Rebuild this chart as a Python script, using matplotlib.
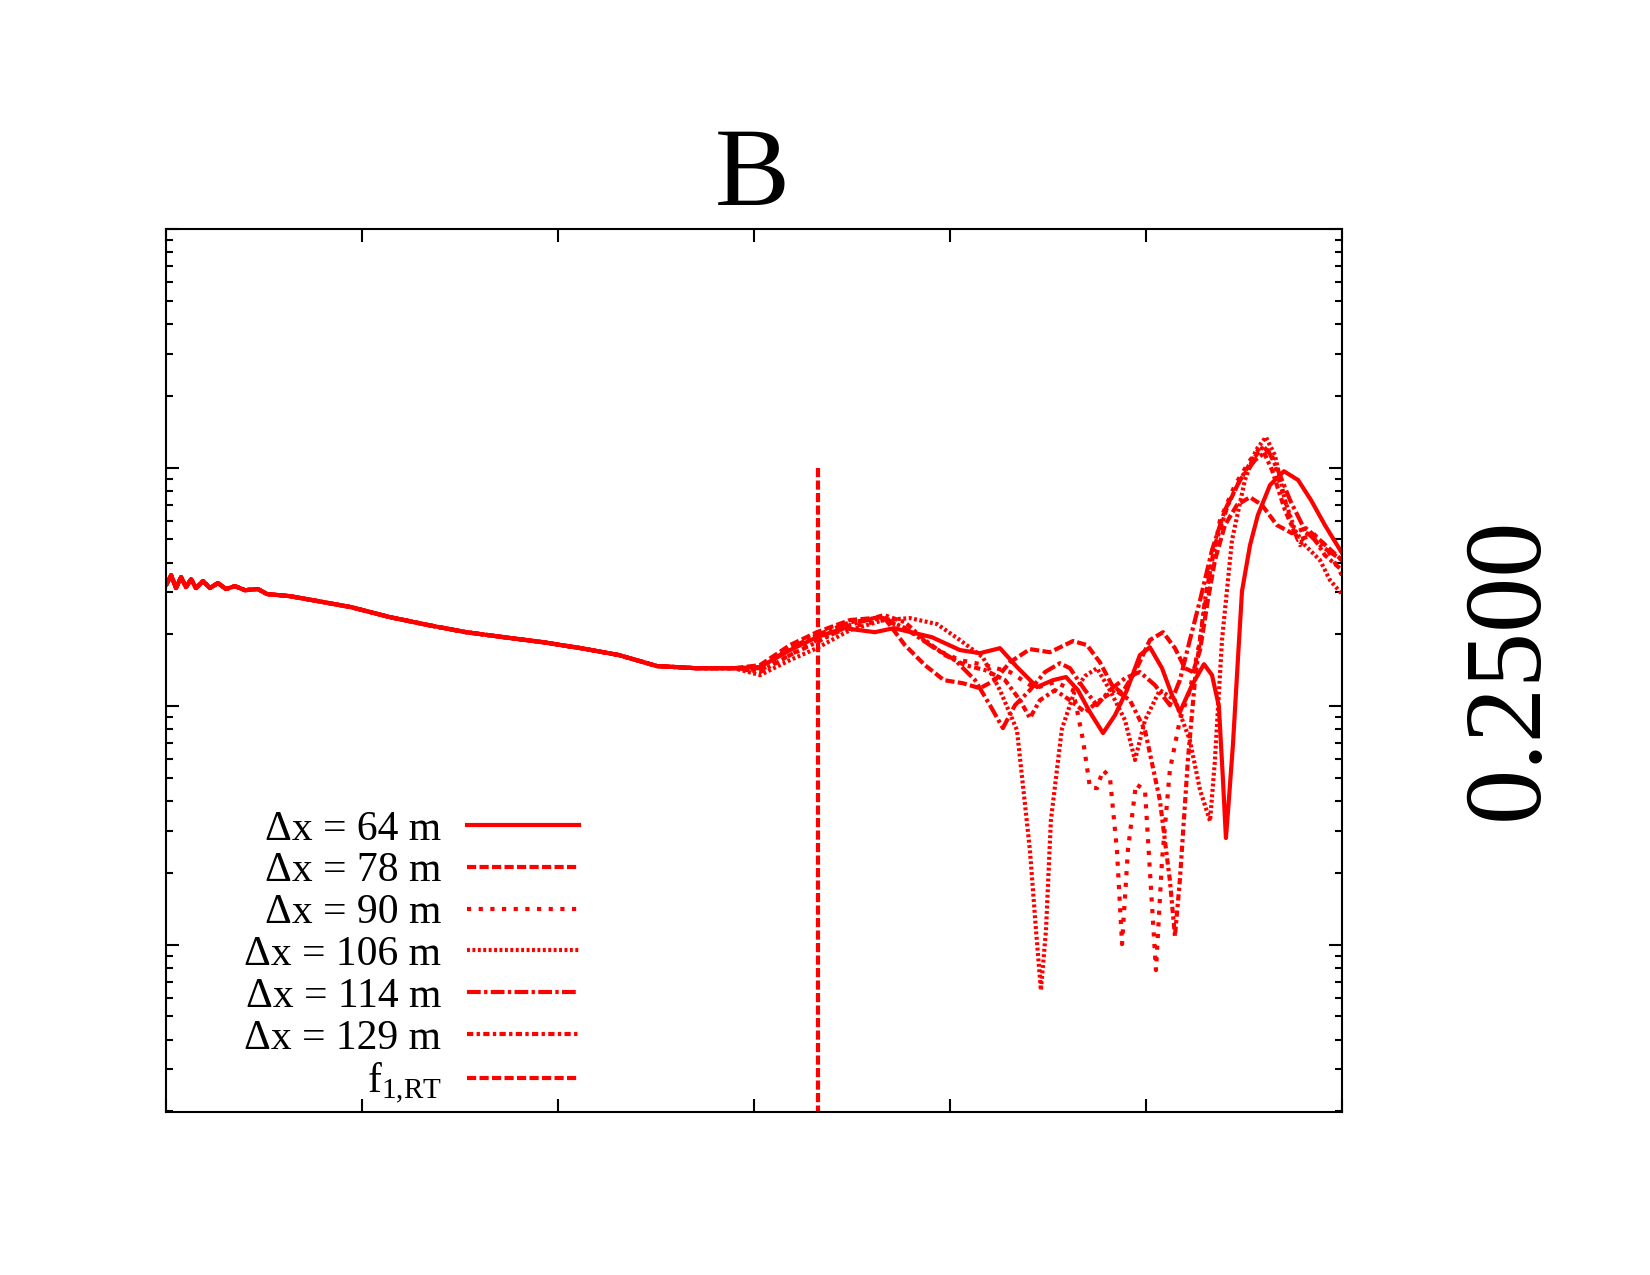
import matplotlib
matplotlib.use("Agg")
import matplotlib.pyplot as plt
from matplotlib.ticker import LogLocator, NullLocator, NullFormatter
import numpy as np

plt.rcParams['font.family'] = ['Liberation Serif', 'DejaVu Serif']
plt.rcParams['mathtext.fontset'] = 'custom'
plt.rcParams['mathtext.rm'] = 'Liberation Serif'

# values as log10 (x: 6 decades, y: top = 10^0)
# shared low part, all runs lie on top of each other here
lx_low = [0, .026, .051, .077, .102, .128, .153, .189, .224, .265, .306, .352, .403, .469,
          .515, .633, .750, .944, 1.143, 1.337, 1.531, 1.724, 1.923, 2.117, 2.311, 2.505, 2.704, 2.898]
ly_low = [-1.493, -1.451, -1.505, -1.459, -1.501, -1.468, -1.505, -1.476, -1.505, -1.484, -1.509,
          -1.497, -1.514, -1.509, -1.530, -1.539, -1.556, -1.585, -1.627, -1.660, -1.690, -1.711,
          -1.732, -1.757, -1.786, -1.832, -1.841, -1.841]

# dx = 64 m
lx_64 = [3.031, 3.184, 3.321, 3.459, 3.617, 3.714, 3.908, 4.051, 4.153, 4.255, 4.342, 4.444, 4.526,
         4.592, 4.653, 4.714, 4.781, 4.842, 4.903, 4.969, 5.020, 5.082, 5.133, 5.173, 5.235, 5.296,
         5.337, 5.372, 5.393, 5.408, 5.423, 5.444, 5.469, 5.490, 5.531, 5.571, 5.633, 5.704, 5.776,
         5.842, 5.913, 6.0]
ly_64 = [-1.836, -1.765, -1.711, -1.673, -1.690, -1.673, -1.711, -1.765, -1.778, -1.757, -1.836,
         -1.920, -1.891, -1.878, -1.933, -2.025, -2.113, -2.038, -1.933, -1.786, -1.753, -1.841,
         -1.954, -2.025, -1.912, -1.824, -1.870, -2.000, -2.310, -2.553, -2.394, -2.159, -1.807,
         -1.518, -1.325, -1.199, -1.073, -1.015, -1.052, -1.136, -1.241, -1.358]

# dx = 78 m
lx_78 = [3.031, 3.184, 3.321, 3.490, 3.663, 3.770, 3.872, 3.969, 4.066, 4.153, 4.230, 4.306, 4.408,
         4.510, 4.628, 4.699, 4.765, 4.827, 4.878, 4.944, 5.020, 5.087, 5.148, 5.199, 5.240, 5.276,
         5.316, 5.352, 5.403, 5.464, 5.531, 5.592, 5.668, 5.745, 5.816, 5.888, 6.0]
ly_78 = [-1.828, -1.744, -1.690, -1.639, -1.627, -1.744, -1.828, -1.891, -1.904, -1.925, -1.891,
         -1.816, -1.761, -1.774, -1.727, -1.744, -1.816, -1.912, -1.945, -1.857, -1.723, -1.690,
         -1.757, -1.841, -1.857, -1.765, -1.556, -1.388, -1.241, -1.157, -1.124, -1.157, -1.241,
         -1.275, -1.254, -1.304, -1.388]

# dx = 90 m
lx_90 = [3.031, 3.184, 3.321, 3.490, 3.663, 3.796, 3.934, 4.051, 4.179, 4.306, 4.434, 4.536, 4.628,
         4.679, 4.714, 4.750, 4.781, 4.816, 4.852, 4.878, 4.908, 4.949, 4.995, 5.020, 5.051, 5.082,
         5.122, 5.173, 5.224, 5.276, 5.327, 5.378, 5.454, 5.531, 5.592, 5.643, 5.694, 5.745, 5.786,
         5.837, 5.913, 6.0]
ly_90 = [-1.849, -1.786, -1.723, -1.669, -1.639, -1.681, -1.765, -1.807, -1.828, -1.857, -1.925,
         -1.899, -1.933, -2.143, -2.340, -2.344, -2.268, -2.298, -2.604, -2.998, -2.604, -2.327,
         -2.352, -2.688, -3.107, -2.646, -2.268, -2.059, -1.933, -1.723, -1.430, -1.220, -1.073,
         -0.969, -0.906, -0.948, -1.094, -1.241, -1.325, -1.262, -1.325, -1.451]

# dx = 106 m
lx_106 = [3.031, 3.184, 3.321, 3.490, 3.663, 3.796, 3.934, 4.051, 4.168, 4.255, 4.342, 4.408, 4.439,
          4.464, 4.490, 4.515, 4.571, 4.638, 4.689, 4.750, 4.816, 4.893, 4.944, 4.995, 5.071, 5.148,
          5.224, 5.276, 5.327, 5.352, 5.388, 5.439, 5.505, 5.561, 5.612, 5.658, 5.709, 5.760, 5.811,
          5.888, 5.939, 6.0]
ly_106 = [-1.870, -1.807, -1.757, -1.681, -1.639, -1.631, -1.656, -1.723, -1.795, -1.933, -2.101,
          -2.604, -2.939, -3.191, -2.939, -2.478, -2.096, -1.933, -1.874, -1.841, -1.933, -2.059,
          -2.226, -2.059, -1.933, -1.975, -2.143, -2.352, -2.482, -2.226, -1.723, -1.304, -1.052,
          -0.927, -0.872, -0.948, -1.136, -1.262, -1.325, -1.388, -1.472, -1.530]

# dx = 114 m
lx_114 = [3.031, 3.184, 3.321, 3.490, 3.663, 3.770, 3.898, 4.026, 4.128, 4.204, 4.270, 4.332, 4.408,
          4.485, 4.561, 4.612, 4.689, 4.750, 4.816, 4.893, 4.969, 5.046, 5.122, 5.173, 5.224, 5.276,
          5.337, 5.403, 5.480, 5.556, 5.622, 5.673, 5.735, 5.811, 5.888, 6.0]
ly_114 = [-1.841, -1.757, -1.702, -1.648, -1.631, -1.673, -1.744, -1.807, -1.891, -1.996, -2.092,
          -1.996, -1.933, -1.857, -1.820, -1.841, -1.933, -1.996, -1.933, -1.883, -1.857, -1.912,
          -1.996, -1.891, -1.723, -1.556, -1.346, -1.178, -1.052, -0.969, -0.927, -1.010, -1.136,
          -1.262, -1.325, -1.388]

# dx = 129 m
lx_129 = [3.031, 3.184, 3.321, 3.490, 3.663, 3.770, 3.872, 3.974, 4.077, 4.179, 4.281, 4.357, 4.408,
          4.459, 4.536, 4.612, 4.689, 4.765, 4.842, 4.918, 4.995, 5.071, 5.122, 5.148, 5.173, 5.214,
          5.250, 5.301, 5.352, 5.418, 5.480, 5.541, 5.592, 5.643, 5.709, 5.776, 5.847, 5.913, 6.0]
ly_129 = [-1.857, -1.786, -1.732, -1.660, -1.618, -1.648, -1.723, -1.786, -1.828, -1.849, -1.891,
          -1.975, -2.050, -1.975, -1.933, -1.975, -2.025, -1.975, -1.933, -1.975, -2.101, -2.394,
          -2.730, -2.964, -2.730, -2.226, -1.891, -1.556, -1.325, -1.157, -1.052, -0.969, -0.918,
          -1.010, -1.178, -1.304, -1.283, -1.367, -1.430]

f1_rt = 3.327          # log10 of f_1,RT
f1_top = -1.0          # vertical marker starts here
labels = ['Δx = 64 m', 'Δx = 78 m', 'Δx = 90 m', 'Δx = 106 m', 'Δx = 114 m', 'Δx = 129 m']

styles = ['-', (0, (2.2, 0.8)), (0, (1.0, 1.8)), (0, (0.7, 0.6)),
          (0, (3.3, 0.8, 0.8, 0.8)), (0, (1.5, 0.8, 0.8, 0.8))]
runs = [(lx_64, ly_64), (lx_78, ly_78), (lx_90, ly_90), (lx_106, ly_106),
        (lx_114, ly_114), (lx_129, ly_129)]

fig = plt.figure(figsize=(11, 8.5), dpi=150)
ax = fig.add_axes([0.1006, 0.1278, 0.7127, 0.6925])

lw = 2.0
for (lx, ly), ls, lab in zip(runs, styles, labels):
    x = 10 ** np.array(lx_low + lx)
    y = 10 ** np.array(ly_low + ly)
    ax.plot(x, y, color='red', lw=lw, ls=ls, label=lab)

ylo = 10 ** -3.702
ax.plot([10 ** f1_rt, 10 ** f1_rt], [10 ** f1_top, ylo], color='red', lw=lw,
        ls=(0, (2.2, 0.8)), label=r'f$_{\rm 1{,}RT}$')

ax.set_xscale('log')
ax.set_yscale('log')
ax.set_xlim(1, 1e6)
ax.set_ylim(ylo, 1)
ax.xaxis.set_minor_locator(NullLocator())
ax.yaxis.set_minor_locator(LogLocator(subs=np.arange(2, 10)))
for a in (ax.xaxis, ax.yaxis):
    a.set_major_formatter(NullFormatter())
    a.set_minor_formatter(NullFormatter())
ax.tick_params(which='both', direction='in', top=True, right=True, width=1.0)
ax.tick_params(which='major', length=6.2)
ax.tick_params(which='minor', length=3.4)
for s in ax.spines.values():
    s.set_linewidth(1.0)

leg = ax.legend(loc='upper right', bbox_to_anchor=(579 / 1650, 1 - 810 / 1275),
                bbox_transform=fig.transFigure, frameon=False, markerfirst=False,
                alignment='right', fontsize=20, handlelength=2.7, handletextpad=0.6,
                labelspacing=0.08, borderpad=0, borderaxespad=0)

fig.text(752 / 1650, 1 - 205 / 1275, 'B', fontsize=54, ha='center', va='baseline')
fig.text(1510 / 1650, 1 - 668 / 1275, '0.2500', fontsize=53, rotation=90,
         ha='center', va='center')

fig.savefig('out.png', dpi=150)
